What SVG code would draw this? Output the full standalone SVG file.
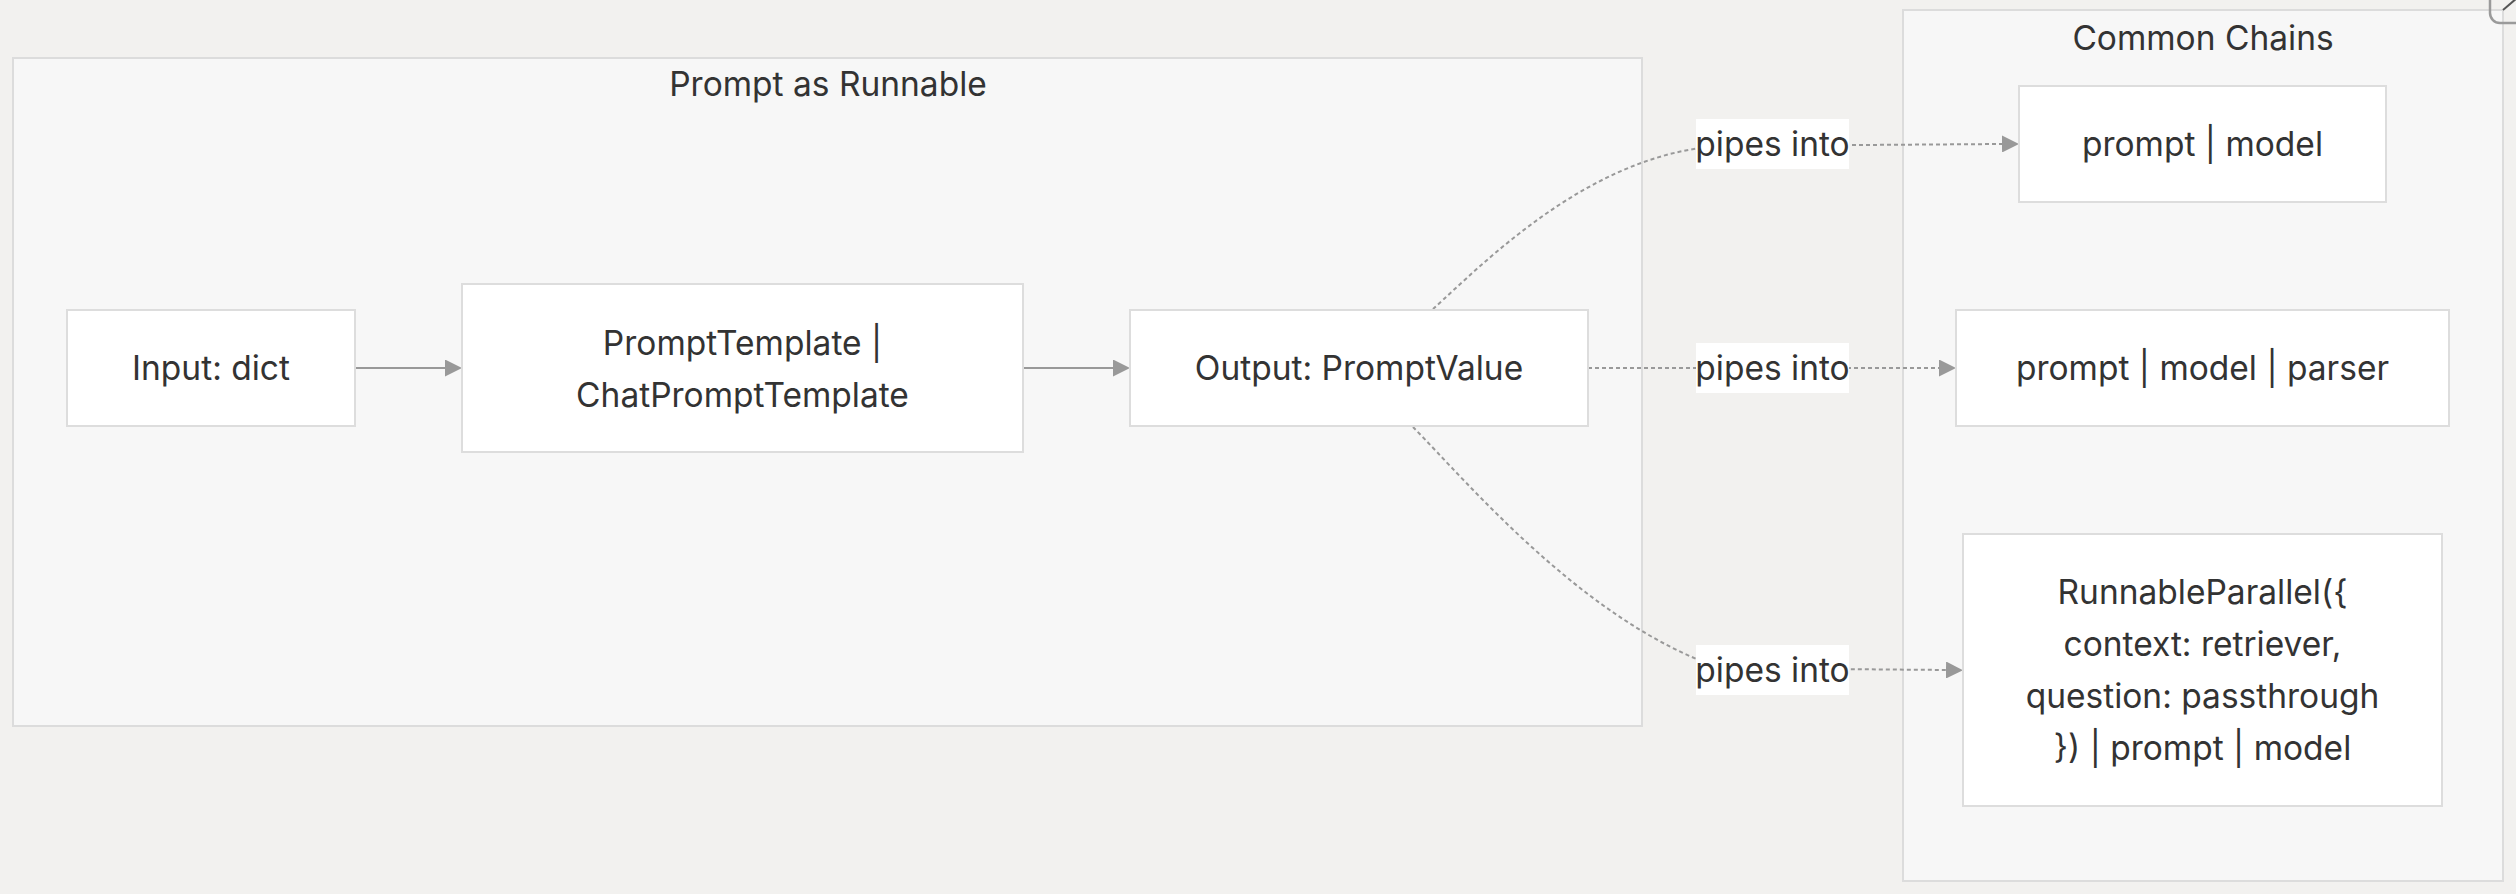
<svg xmlns="http://www.w3.org/2000/svg" width="2516" height="894" viewBox="0 0 2516 894">
<defs>
<style>
.bg{fill:#f2f1ef}
.cluster{fill:#f7f7f7;stroke:#dcdcdc;stroke-width:2}
.node{fill:#ffffff;stroke:#dddddd;stroke-width:2}
.t{font-family:Inter,"Liberation Sans",sans-serif;font-size:33.5px;fill:#333333;text-anchor:middle}
.edge{fill:none;stroke:#999999;stroke-width:2}
.dot{stroke-dasharray:4 3}
.lbl{fill:#ffffff}
</style>
<marker id="arrow" markerUnits="userSpaceOnUse" viewBox="0 0 10 10" refX="0" refY="5" markerWidth="17" markerHeight="17" orient="auto">
<path d="M0,0 L10,5 L0,10 z" fill="#999999"/>
</marker>
</defs>
<rect class="bg" x="0" y="0" width="2516" height="894"/>

<g id="cluster-prompt-as-runnable">
<rect class="cluster" x="13" y="58" width="1629" height="668"/>
<text class="t" x="828" y="96">Prompt as Runnable</text>
</g>
<g id="cluster-common-chains">
<rect class="cluster" x="1903" y="10" width="600" height="871"/>
<text class="t" x="2203" y="50">Common Chains</text>
</g>

<g id="connectors">
<path class="edge" d="M355,368 L445,368" marker-end="url(#arrow)"/>
<path class="edge" d="M1023,368 L1113,368" marker-end="url(#arrow)"/>
<path class="edge dot" d="M1433,309 C1485,262 1590,154 1720,146 L2002,144" marker-end="url(#arrow)"/>
<path class="edge dot" d="M1588,368 L1939,368" marker-end="url(#arrow)"/>
<path class="edge dot" d="M1413,427 C1470,485 1585,622 1720,668 L1946,670" marker-end="url(#arrow)"/>
<g id="label-1"><rect class="lbl" x="1696" y="119" width="153" height="50"/><text class="t" x="1772.5" y="156">pipes into</text></g>
<g id="label-2"><rect class="lbl" x="1696" y="343" width="153" height="50"/><text class="t" x="1772.5" y="380">pipes into</text></g>
<g id="label-3"><rect class="lbl" x="1696" y="645" width="153" height="50"/><text class="t" x="1772.5" y="682">pipes into</text></g>
</g>

<g id="node-input">
<rect class="node" x="67" y="310" width="288" height="116"/>
<text class="t" x="211" y="380">Input: dict</text>
</g>
<g id="node-template">
<rect class="node" x="462" y="284" width="561" height="168"/>
<text class="t" x="742.5" y="355">PromptTemplate |</text>
<text class="t" x="742.5" y="407">ChatPromptTemplate</text>
</g>
<g id="node-output">
<rect class="node" x="1130" y="310" width="458" height="116"/>
<text class="t" x="1359" y="380">Output: PromptValue</text>
</g>
<g id="node-chain1">
<rect class="node" x="2019" y="86" width="367" height="116"/>
<text class="t" x="2202.5" y="156">prompt | model</text>
</g>
<g id="node-chain2">
<rect class="node" x="1956" y="310" width="493" height="116"/>
<text class="t" x="2202.5" y="380">prompt | model | parser</text>
</g>
<g id="node-chain3">
<rect class="node" x="1963" y="534" width="479" height="272"/>
<text class="t" x="2202.5" y="604">RunnableParallel({</text>
<text class="t" x="2202.5" y="656">context: retriever,</text>
<text class="t" x="2202.5" y="708">question: passthrough</text>
<text class="t" x="2202.5" y="760">}) | prompt | model</text>
</g>

<g id="corner-icon">
<rect x="2490" y="-20" width="50" height="43" rx="10" fill="none" stroke="#9a9a9a" stroke-width="2.5"/>
<line x1="2503" y1="10" x2="2517" y2="-2" stroke="#555555" stroke-width="2"/>
</g>
</svg>
